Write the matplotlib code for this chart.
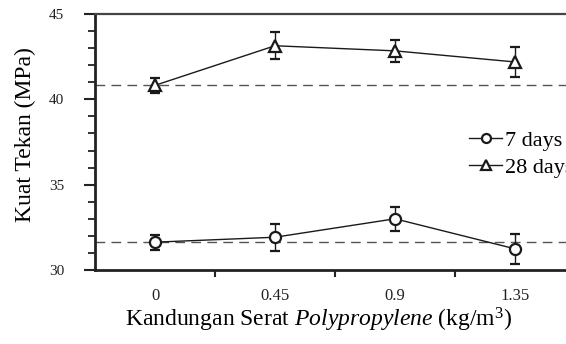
import matplotlib.pyplot as plt
from matplotlib.lines import Line2D
from matplotlib.ticker import FixedLocator, MultipleLocator, NullFormatter

plt.rcParams["font.family"] = ["Liberation Serif", "DejaVu Serif"]
plt.rcParams["mathtext.fontset"] = "custom"
plt.rcParams["mathtext.rm"] = "Liberation Serif"
plt.rcParams["mathtext.it"] = "Liberation Serif:italic"

fiber = ["0", "0.45", "0.9", "1.35"]
days7 = [31.63, 31.92, 33.0, 31.24]
days7_err = [0.45, 0.8, 0.7, 0.88]
days28 = [40.82, 43.14, 42.84, 42.19]
days28_err = [0.43, 0.8, 0.65, 0.9]

W, H = 566, 344
fig = plt.figure(figsize=(W / 100, H / 100), dpi=100)
left, right, top, bottom = 95, 575, 14, 270
ax = fig.add_axes([left / W, 1 - bottom / H, (right - left) / W, (bottom - top) / H])

x = list(range(1, len(fiber) + 1))

# reference lines at the control (0) value
ax.axhline(days28[0], color="#555555", linestyle=(0, (7, 4.5)), linewidth=1.0, zorder=1)
ax.axhline(days7[0], color="#555555", linestyle=(0, (7, 4.5)), linewidth=1.0, zorder=1)

ax.errorbar(x, days7, yerr=days7_err, fmt="-o", color="#1a1a1a", mfc="white",
            mec="#1a1a1a", ms=8, mew=1.6, lw=1.0, elinewidth=1.0, capsize=3.5,
            capthick=1.0, zorder=3)
ax.errorbar(x, days28, yerr=days28_err, fmt="-^", color="#1a1a1a", mfc="white",
            mec="#1a1a1a", ms=8.5, mew=1.6, lw=1.0, elinewidth=1.0, capsize=3.5,
            capthick=1.0, zorder=3)

ax.set_xlim(0.5, 4.5)
ax.set_ylim(30, 45)

ax.xaxis.set_major_locator(FixedLocator([1.5, 2.5, 3.5, 4.5]))
ax.xaxis.set_major_formatter(NullFormatter())
ax.xaxis.set_minor_locator(FixedLocator(x))
ax.set_xticklabels(fiber, minor=True)
ax.tick_params(axis="x", which="major", direction="out", length=5, width=1.5, color="#222222")
ax.tick_params(axis="x", which="minor", length=0, pad=13, labelsize=12, labelcolor="#222222")

ax.yaxis.set_major_locator(MultipleLocator(5))
ax.yaxis.set_minor_locator(MultipleLocator(1))
ax.tick_params(axis="y", which="major", direction="out", length=8, width=1.5, color="#222222",
               labelsize=11, labelcolor="#222222", pad=14)
ax.tick_params(axis="y", which="minor", direction="out", length=5, width=1.3, color="#222222")

for s in ["left", "bottom"]:
    ax.spines[s].set_linewidth(2.0)
    ax.spines[s].set_color("#222222")
ax.spines["top"].set_linewidth(1.6)
ax.spines["top"].set_color("#444444")
ax.spines["right"].set_visible(False)

fig.text(25 / W, 1 - 135 / H, "Kuat Tekan (MPa)", rotation=90, ha="center", va="center",
         fontsize=17)
fig.text(319 / W, 1 - 327 / H,
         "Kandungan Serat $\\it{Polypropylene}$ (kg/m$^\\mathregular{3}$)",
         ha="center", va="baseline", fontsize=17)

handles = [
    Line2D([], [], color="#1a1a1a", lw=1.0, marker="o", ms=6.5, mfc="white", mew=1.6),
    Line2D([], [], color="#1a1a1a", lw=1.0, marker="^", ms=7, mfc="white", mew=1.6),
]
fig.legend(handles, ["7 days", "28 days"], loc="upper left",
           bbox_to_anchor=(458 / W, 1 - 119 / H), frameon=False, fontsize=16,
           handlelength=1.5, handletextpad=0.1, borderpad=0, labelspacing=0.3)

fig.savefig("out.png", dpi=100)
